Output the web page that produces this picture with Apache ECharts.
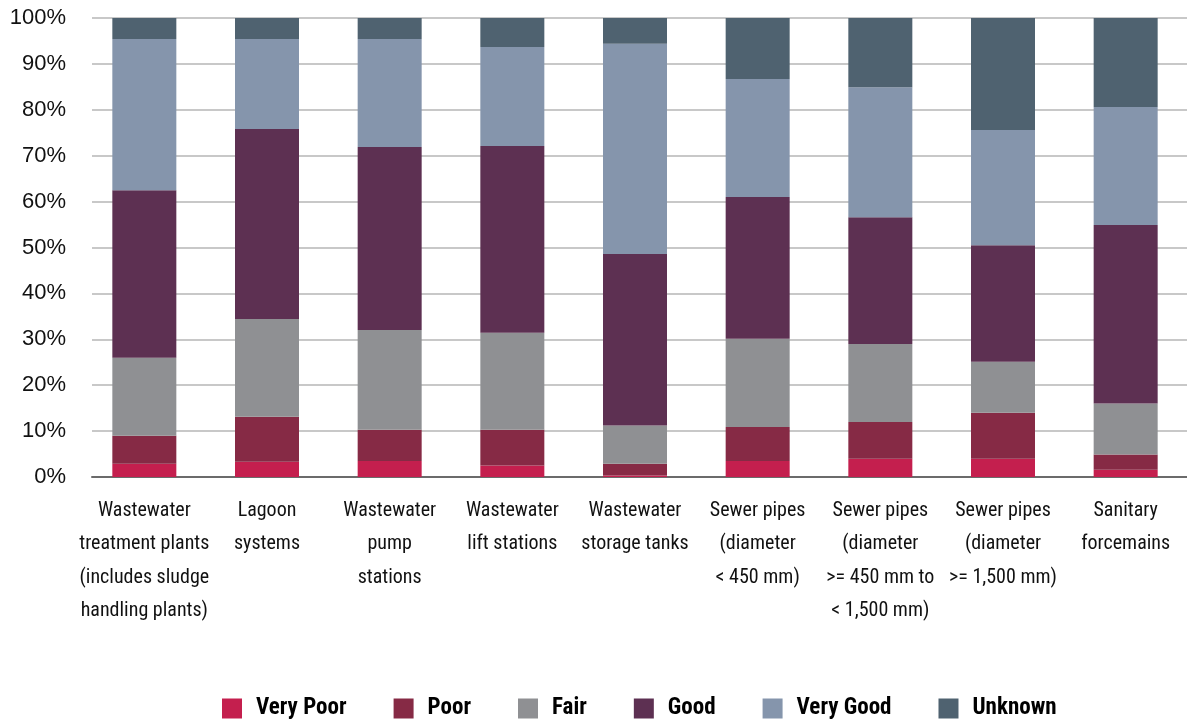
<!DOCTYPE html>
<html>
<head>
<meta charset="utf-8">
<script src="https://cdn.jsdelivr.net/npm/echarts@6/dist/echarts.min.js"></script>
<style>
html,body{margin:0;padding:0;background:#fff;}
#chart{width:1187px;height:723px;}
</style>
</head>
<body>
<div id="chart"></div>
<script>
const categories = [
  "Wastewater\ntreatment plants\n(includes sludge\nhandling plants)",
  "Lagoon\nsystems",
  "Wastewater\npump\nstations",
  "Wastewater\nlift stations",
  "Wastewater\nstorage tanks",
  "Sewer pipes\n(diameter\n< 450 mm)",
  "Sewer pipes\n(diameter\n>= 450 mm to\n< 1,500 mm)",
  "Sewer pipes\n(diameter\n>= 1,500 mm)",
  "Sanitary\nforcemains"
];
const seriesNames = ["Very Poor", "Poor", "Fair", "Good", "Very Good", "Unknown"];
const veryPoor = [2.9, 3.3, 3.5, 2.5, 0.3, 3.5, 4.0, 4.0, 1.6];
const poor     = [6.1, 9.8, 6.8, 7.8, 2.6, 7.4, 8.0, 10.0, 3.3];
const fair     = [17.0, 21.3, 21.7, 21.1, 8.3, 19.2, 17.0, 11.1, 11.1];
const good     = [36.5, 41.4, 39.9, 40.7, 37.4, 30.9, 27.6, 25.4, 38.9];
const veryGood = [32.9, 19.6, 23.5, 21.6, 45.8, 25.7, 28.3, 25.1, 25.7];
const unknown  = [4.6, 4.6, 4.6, 6.3, 5.6, 13.3, 15.1, 24.4, 19.4];
const yTicks = [0, 10, 20, 30, 40, 50, 60, 70, 80, 90, 100];
const colors = ["#C41F4E", "#862A45", "#8F9093", "#5D3052", "#8595AC", "#4F6270"];

const allData = [veryPoor, poor, fair, good, veryGood, unknown];
const condFont = '"Roboto Condensed", "DejaVu Sans Condensed", "Liberation Sans Narrow", "Liberation Sans", sans-serif';

const chart = echarts.init(document.getElementById('chart'), null, {renderer: 'canvas'});
chart.setOption({
  animation: false,
  backgroundColor: '#ffffff',
  grid: [
    {left: 92, right: 0, top: 18, bottom: 246},
    {left: 83, width: 1121, top: 18, bottom: 246}
  ],
  legend: {
    data: seriesNames,
    left: 217, top: 692,
    itemWidth: 20, itemHeight: 20, itemGap: 47,
    icon: 'rect',
    textStyle: {
      fontFamily: condFont,
      fontWeight: 'bold', fontSize: 23, color: '#000',
      padding: [0, 0, 0, 9]
    }
  },
  xAxis: [
    {
      type: 'category', gridIndex: 0, data: categories,
      axisLine: {show: true, lineStyle: {color: '#6b6b6b', width: 2}},
      axisTick: {show: false}, axisLabel: {show: false}
    },
    {
      type: 'category', gridIndex: 1, data: categories,
      axisLine: {show: false}, axisTick: {show: false},
      axisLabel: {
        interval: 0, margin: 17,
        fontFamily: condFont,
        fontSize: 20, lineHeight: 33.5, color: '#111', align: 'center'
      }
    }
  ],
  yAxis: [
    {
      type: 'value', gridIndex: 0, min: yTicks[0], max: yTicks[yTicks.length - 1], interval: 10,
      axisLine: {show: false}, axisTick: {show: false},
      splitLine: {show: true, lineStyle: {color: '#c8c8c8', width: 2}},
      axisLabel: {
        formatter: v => v + '%', margin: 26,
        fontFamily: '"Liberation Sans", Arial, sans-serif', fontSize: 22, color: '#111'
      }
    },
    {
      type: 'value', gridIndex: 1, min: 0, max: 100, show: false
    }
  ],
  series: seriesNames.map((name, i) => ({
    name: name,
    type: 'bar',
    stack: 'total',
    xAxisIndex: 1, yAxisIndex: 1,
    barWidth: 64,
    itemStyle: {color: colors[i]},
    data: allData[i]
  }))
});
</script>
</body>
</html>
